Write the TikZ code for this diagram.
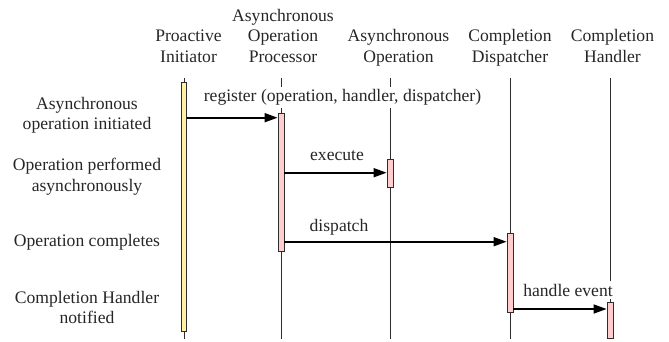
\documentclass[tikz,border=0pt]{standalone}
\usepackage{fontspec}
\setmainfont{Liberation Serif}
\newfontfamily\diagfont{Liberation Serif}
\usetikzlibrary{arrows.meta,calc}
\definecolor{baryellow}{RGB}{255,242,165}
\definecolor{barpink}{RGB}{255,205,205}
\definecolor{linegray}{RGB}{45,45,45}
\begin{document}
\begin{tikzpicture}[x=1pt,y=-1pt,
  font=\diagfont\fontsize{17.6}{20.5}\selectfont,
  head/.style={align=center, anchor=base, inner sep=0pt, text=black!85},
  side/.style={align=center, anchor=base, inner sep=0pt, text=black!85},
  life/.style={draw=linegray, line width=0.8pt},
  bar/.style={draw=linegray, line width=0.8pt, minimum width=6pt, inner sep=0pt, anchor=north},
  msg/.style={draw=black, line width=1.6pt, -{Triangle[length=13pt,width=9pt]}},
  lbl/.style={anchor=base, inner sep=2.5pt, text=black!85},
  cover/.style={lbl, fill=white}]
\useasboundingbox (0,0) rectangle (669,341);

% headers
\node[head] (hpi) at (188.5,62) {Proactive\\Initiator};
\node[head] (hap) at (283,62) {Asynchronous\\Operation\\Processor};
\node[head] (hao) at (398.5,62) {Asynchronous\\Operation};
\node[head] (hcd) at (510,62) {Completion\\Dispatcher};
\node[head] (hch) at (612.5,62) {Completion\\Handler};

% side labels
\node[side] (s1) at (87,129.5) {Asynchronous\\operation initiated};
\node[side] (s2) at (87,191.2) {Operation performed\\asynchronously};
\node[side] (s3) at (87,246.7) {Operation completes};
\node[side] (s4) at (87,323.8) {Completion Handler\\notified};

% lifelines
\coordinate (piT) at (184,78);  \coordinate (piB) at (184,339);
\coordinate (apT) at (281,78);  \coordinate (apB) at (281,339);
\coordinate (aoT) at (390,78);  \coordinate (aoB) at (390,339);
\coordinate (cdT) at (510,78);  \coordinate (cdB) at (510,339);
\coordinate (chT) at (610,78);  \coordinate (chB) at (610,339);
\draw[life] (piT) -- (piB);
\draw[life] (apT) -- (apB);
\draw[life] (aoT) -- (aoB);
\draw[life] (cdT) -- (cdB);
\draw[life] (chT) -- (chB);

% message labels
\node[cover] (lreg) at (342.5,101.5) {register (operation, handler, dispatcher)};
\node[lbl] (lexe) at (337,160) {execute};
\node[lbl] (ldis) at (339,231) {dispatch};
\node[cover] (lhan) at (568,296) {handle event};

% activation bars
\node[bar, fill=baryellow, minimum width=5.5pt, minimum height=249pt] (pib) at (184,82) {};
\node[bar, fill=barpink, minimum height=138.5pt] (apb) at (281,112.7) {};
\node[bar, fill=barpink, minimum height=27.5pt] (aob) at (390,159.3) {};
\node[bar, fill=barpink, minimum height=79pt] (cdb) at (510,233.3) {};
\node[bar, fill=barpink, minimum height=36pt] (chb) at (610,302.3) {};

% messages
\coordinate (m1) at (0,117.7);
\coordinate (m2) at (0,172.7);
\coordinate (m3) at (0,241.7);
\coordinate (m4) at (0,309);
\draw[msg] (pib.east |- m1) -- (apb.west |- m1);
\draw[msg] (apb.east |- m2) -- (aob.west |- m2);
\draw[msg] (apb.east |- m3) -- (cdb.west |- m3);
\draw[msg] (cdb.east |- m4) -- (chb.west |- m4);
\end{tikzpicture}
\end{document}
